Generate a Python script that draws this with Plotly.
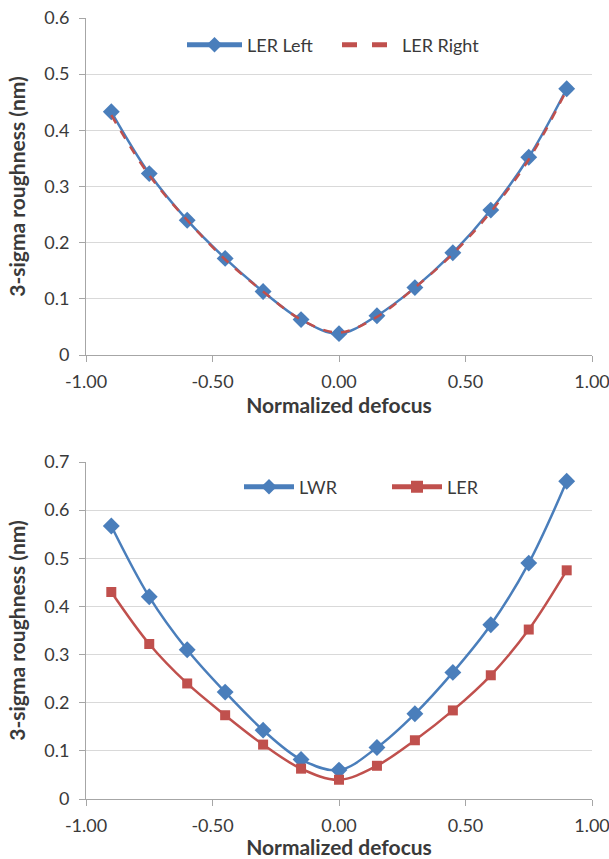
import plotly.graph_objects as go
from plotly.subplots import make_subplots

defocus = [-0.9, -0.75, -0.6, -0.45, -0.3, -0.15, 0.0, 0.15, 0.3, 0.45, 0.6, 0.75, 0.9]
ler_left = [0.433, 0.323, 0.240, 0.172, 0.113, 0.063, 0.038, 0.070, 0.120, 0.182, 0.258, 0.352, 0.474]
ler_right = [0.427, 0.320, 0.240, 0.170, 0.113, 0.063, 0.040, 0.068, 0.120, 0.180, 0.255, 0.348, 0.472]
lwr = [0.567, 0.420, 0.310, 0.222, 0.143, 0.082, 0.060, 0.107, 0.177, 0.263, 0.362, 0.490, 0.660]
ler = [0.430, 0.322, 0.240, 0.174, 0.113, 0.063, 0.040, 0.069, 0.122, 0.184, 0.257, 0.352, 0.475]

x_ticks = [-1.0, -0.5, 0.0, 0.5, 1.0]
x_ticklabels = ["-1.00", "-0.50", "0.00", "0.50", "1.00"]

BLUE = "#4A7EBB"
RED = "#C0504D"
FONT = "Lato"
TXT = "#3A3A3A"

fig = make_subplots(rows=2, cols=1)

fig.add_trace(go.Scatter(x=defocus, y=ler_left, name="LER Left", mode="lines+markers",
                         line=dict(color=BLUE, width=2.5, shape="spline"),
                         marker=dict(symbol="diamond", size=13, color=BLUE),
                         legend="legend"), row=1, col=1)
fig.add_trace(go.Scatter(x=defocus, y=ler_right, name="LER Right", mode="lines",
                         line=dict(color=RED, width=2.5, dash="dash", shape="spline"),
                         legend="legend"), row=1, col=1)
fig.add_trace(go.Scatter(x=defocus, y=lwr, name="LWR", mode="lines+markers",
                         line=dict(color=BLUE, width=2.5, shape="spline"),
                         marker=dict(symbol="diamond", size=13, color=BLUE),
                         legend="legend2"), row=2, col=1)
fig.add_trace(go.Scatter(x=defocus, y=ler, name="LER", mode="lines+markers",
                         line=dict(color=RED, width=2.5, shape="spline"),
                         marker=dict(symbol="square", size=10, color=RED),
                         legend="legend2"), row=2, col=1)

H = 859
mt, mb = 18, 60
ml, mr = 86, 17
ph = H - mt - mb
pw = 609 - ml - mr
def py(px):
    return (H - mb - px) / ph
def px_(x):
    return (x - ml) / pw

axis_common = dict(showline=True, linecolor="#A6A6A6", linewidth=1,
                   ticks="outside", tickcolor="#A6A6A6", ticklen=6, automargin=False,
                   tickfont=dict(family=FONT, size=18, color=TXT), zeroline=False)

for r, (ymax, dom) in enumerate([(0.6, [py(355), 1.0]), (0.7, [0.0, py(462)])], start=1):
    fig.update_xaxes(range=[-1, 1], tickvals=x_ticks, ticktext=x_ticklabels,
                     showgrid=False, ticklabelstandoff=4, ticklabeloverflow="allow",
                     title=dict(text="<b>Normalized defocus</b>", standoff=4,
                                font=dict(family=FONT, size=21, color=TXT)),
                     **axis_common, row=r, col=1)
    fig.update_yaxes(range=[0, ymax], domain=dom, ticklabelstandoff=6,
                     tickvals=[round(0.1 * i, 1) for i in range(int(round(ymax * 10)) + 1)],
                     ticktext=["0"] + [f"{0.1 * i:.1f}" for i in range(1, int(round(ymax * 10)) + 1)],
                     showgrid=True, gridcolor="#D9D9D9", gridwidth=1.2,
                     title=dict(text="<b>3-sigma roughness (nm)</b>", standoff=12,
                                font=dict(family=FONT, size=21, color=TXT)),
                     **axis_common, row=r, col=1)

fig.update_layout(
    width=609, height=859,
    margin=dict(l=ml, r=mr, t=mt, b=mb),
    plot_bgcolor="white", paper_bgcolor="white",
    legend=dict(orientation="h", x=px_(182), xanchor="left", y=py(45), yanchor="middle",
                font=dict(family=FONT, size=18, color=TXT), bgcolor="rgba(255,255,255,0)",
                itemwidth=55, itemsizing="constant", entrywidth=85),
    legend2=dict(orientation="h", x=px_(239), xanchor="left", y=py(487), yanchor="middle",
                 font=dict(family=FONT, size=18, color=TXT), bgcolor="rgba(255,255,255,0)",
                 itemwidth=50, itemsizing="constant", entrywidth=83),
)

fig.write_html("out.html")
